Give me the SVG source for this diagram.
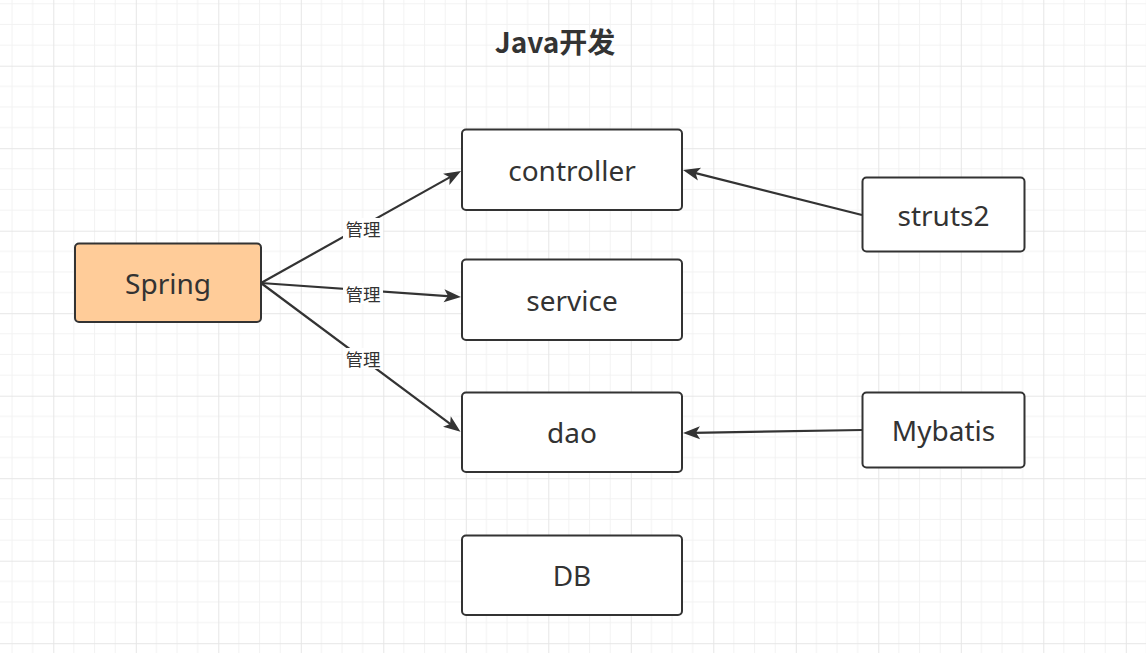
<svg xmlns="http://www.w3.org/2000/svg" width="1146" height="653" viewBox="0 0 1146 653">
<style>
.node rect{fill:#fff;stroke:#333;stroke-width:2}
.node text{font-family:"Noto Sans","Noto Sans CJK SC",sans-serif;font-size:28px;fill:#333;text-anchor:middle;dominant-baseline:central}
.edge{stroke:#333;stroke-width:2.2;fill:none;marker-end:url(#arr)}
.lbl rect{fill:#fff}
.lbl text{font-family:"Noto Sans CJK SC",sans-serif;font-size:17.5px;fill:#333;text-anchor:middle;dominant-baseline:central}
</style>
<defs>
<pattern id="grid" x="53.3" y="65.7" width="82.5" height="82.5" patternUnits="userSpaceOnUse">
<path d="M20.625,0V82.5M41.25,0V82.5M61.875,0V82.5M0,20.625H82.5M0,41.25H82.5M0,61.875H82.5" stroke="#f2f2f2" stroke-width="1" fill="none"/>
<path d="M0.5,0V82.5M0,0.5H82.5" stroke="#e6e6e6" stroke-width="1" fill="none"/>
</pattern>
<marker id="arr" markerUnits="userSpaceOnUse" markerWidth="17" markerHeight="13" refX="7" refY="6.5" orient="auto" overflow="visible">
<path d="M0,0L17,6.5L0,13L4,6.5z" fill="#333"/>
</marker>
</defs>
<rect width="1146" height="653" fill="#fff"/>
<rect width="1146" height="653" fill="url(#grid)"/>
<text x="555" y="41" font-family="'Noto Sans CJK SC',sans-serif" font-size="28" font-weight="bold" fill="#333" text-anchor="middle" dominant-baseline="central">Java开发</text>
<g id="connectors">
<line class="edge" x1="261" y1="283" x2="452.3" y2="175.9"/>
<line class="edge" x1="261" y1="283" x2="451" y2="296.3"/>
<line class="edge" x1="261" y1="283" x2="452.5" y2="425.7"/>
<line class="edge" x1="862" y1="215" x2="692.7" y2="172.4"/>
<line class="edge" x1="862" y1="430" x2="693" y2="432.8"/>
<g class="lbl"><rect x="343" y="218" width="40" height="21"/><text x="363" y="228.5">管理</text></g>
<g class="lbl"><rect x="343" y="283" width="40" height="21"/><text x="363" y="293.5">管理</text></g>
<g class="lbl"><rect x="343" y="348" width="40" height="21"/><text x="363" y="358.5">管理</text></g>
</g>
<g id="spring" class="node"><rect x="75" y="243.5" width="186" height="78.5" rx="4" style="fill:#ffcc99"/><text x="168" y="283">Spring</text></g>
<g id="controller" class="node"><rect x="462" y="129.5" width="220" height="80.5" rx="4"/><text x="572" y="170">controller</text></g>
<g id="service" class="node"><rect x="462" y="259.5" width="220" height="80.5" rx="4"/><text x="572" y="300">service</text></g>
<g id="dao" class="node"><rect x="462" y="392.5" width="220" height="79.5" rx="4"/><text x="572" y="432">dao</text></g>
<g id="db" class="node"><rect x="462" y="535.5" width="220" height="79.5" rx="4"/><text x="572" y="575">DB</text></g>
<g id="struts2" class="node"><rect x="862.5" y="177.5" width="162" height="74" rx="4"/><text x="943.5" y="214.5">struts2</text></g>
<g id="mybatis" class="node"><rect x="862.5" y="392.5" width="162" height="75" rx="4"/><text x="943.5" y="430">Mybatis</text></g>
</svg>
